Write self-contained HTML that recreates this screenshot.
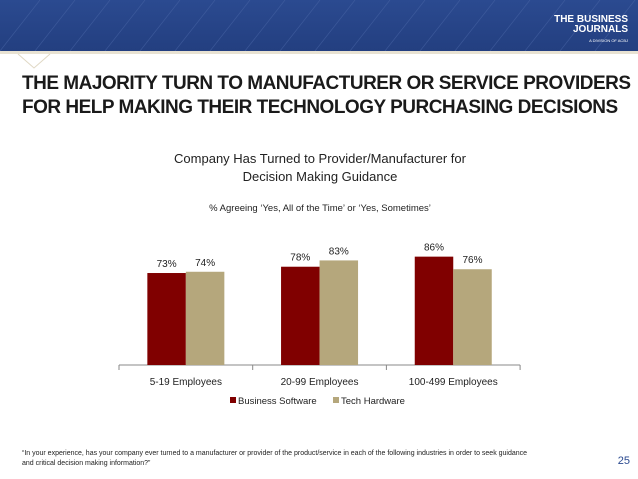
<!DOCTYPE html>
<html><head><meta charset="utf-8"><style>
body{margin:0;width:638px;height:479px;overflow:hidden;background:#fff;font-family:"Liberation Sans",sans-serif;position:relative}
.abs{position:absolute}
</style></head><body>
<div class="abs" style="left:0;top:0;width:638px;height:51px;background:linear-gradient(#2b4a90,#233f80);overflow:hidden">
<svg width="638" height="51"><g stroke="#4a66a6" stroke-width="0.7" opacity="0.6">
<line x1="0" y1="51" x2="40" y2="0"/><line x1="35" y1="51" x2="75" y2="0"/><line x1="70" y1="51" x2="110" y2="0"/><line x1="105" y1="51" x2="145" y2="0"/><line x1="140" y1="51" x2="180" y2="0"/><line x1="175" y1="51" x2="215" y2="0"/><line x1="210" y1="51" x2="250" y2="0"/><line x1="245" y1="51" x2="285" y2="0"/><line x1="280" y1="51" x2="320" y2="0"/><line x1="315" y1="51" x2="355" y2="0"/><line x1="350" y1="51" x2="390" y2="0"/><line x1="385" y1="51" x2="425" y2="0"/><line x1="420" y1="51" x2="460" y2="0"/><line x1="455" y1="51" x2="495" y2="0"/><line x1="490" y1="51" x2="530" y2="0"/><line x1="525" y1="51" x2="565" y2="0"/><line x1="560" y1="51" x2="600" y2="0"/><line x1="595" y1="51" x2="635" y2="0"/></g></svg>
<div class="abs" style="right:10px;top:15px;color:#fff;font-weight:bold;font-size:10px;line-height:10px;text-align:right">THE BUSINESS<br>JOURNALS<br><span style="font-size:4px;font-weight:normal">A DIVISION OF ACBJ</span></div>
</div>
<div class="abs" style="left:0;top:51px;width:638px;height:3px;background:#e8e2d2"></div>
<svg class="abs" style="left:0;top:52px" width="60" height="20"><polyline points="18,2 34,16 50,2" fill="none" stroke="#e0d8c4" stroke-width="1"/></svg>
<div class="abs" style="left:22px;top:72px;font-size:19px;font-weight:bold;line-height:24px;color:#1a1a1a;letter-spacing:-0.5px;white-space:nowrap">THE MAJORITY TURN TO MANUFACTURER OR SERVICE PROVIDERS<br>FOR HELP MAKING THEIR TECHNOLOGY PURCHASING DECISIONS</div>
<div class="abs" style="left:120px;top:150px;width:400px;text-align:center;font-size:13px;line-height:18px;color:#222">Company Has Turned to Provider/Manufacturer for<br>Decision Making Guidance</div>
<div class="abs" style="left:120px;top:203px;width:400px;text-align:center;font-size:9.5px;color:#222">% Agreeing ‘Yes, All of the Time’ or ‘Yes, Sometimes’</div>
<svg id="chart" class="abs" style="left:0;top:0" width="638" height="479"></svg>
<div class="abs" style="left:22px;top:449px;font-size:7px;line-height:10px;color:#222">“In your experience, has your company ever turned to a manufacturer or provider of the product/service in each of the following industries in order to seek guidance<br>and critical decision making information?”</div>
<div class="abs" style="right:8px;top:455px;font-size:11px;color:#2b4a90">25</div>
<script>
const categories=["5-19 Employees","20-99 Employees","100-499 Employees"];
const seriesNames=["Business Software","Tech Hardware"];
const software=[73,78,86];
const hardware=[74,83,76];
const colors=["#800000","#b5a77c"];
const svg=document.getElementById('chart');const NS="http://www.w3.org/2000/svg";
const x0=119,groupW=133.7,base=365,scale=1.26,barW=38.5;
const yPos=v=>base-v*scale;
function mk(t,a){const e=document.createElementNS(NS,t);for(const k in a)e.setAttribute(k,a[k]);svg.appendChild(e);return e;}
const ax=mk('line',{x1:x0,y1:base,x2:x0+groupW*3,y2:base,stroke:'#888','stroke-width':1});


for(let i=0;i<=3;i++){const t=mk('line',{x1:x0+groupW*i,y1:base,x2:x0+groupW*i,y2:base+5,stroke:'#888'});

}
[software,hardware].forEach((s,si)=>{s.forEach((v,i)=>{const cx=x0+groupW*i+groupW/2;const x=cx-barW+si*barW;
const r=mk('rect',{x:x,y:yPos(v),width:barW,height:v*scale,fill:colors[si]});


const t=mk('text',{x:x+barW/2,y:yPos(v)-6,'text-anchor':'middle','font-size':10,fill:'#222','font-family':'Liberation Sans'});t.textContent=v+'%';

});});
categories.forEach((c,i)=>{const t=mk('text',{x:x0+groupW*i+groupW/2,y:base+20,'text-anchor':'middle','font-size':10,fill:'#222','font-family':'Liberation Sans'});t.textContent=c;

});
const lx=[230,333];
seriesNames.forEach((n,i)=>{const r=mk('rect',{x:lx[i],y:397,width:6,height:6,fill:colors[i]});


const t=mk('text',{x:lx[i]+8,y:404,'font-size':9.5,fill:'#222','font-family':'Liberation Sans'});t.textContent=n;

});
</script>
</body></html>
